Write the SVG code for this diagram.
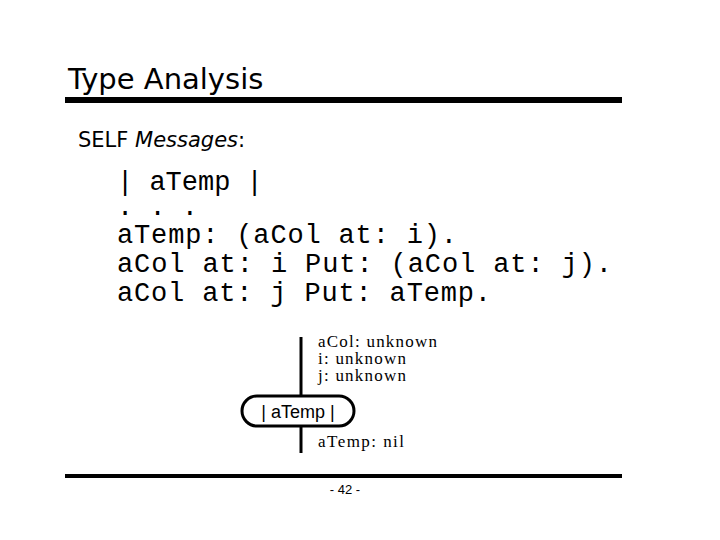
<svg xmlns="http://www.w3.org/2000/svg" width="720" height="540" viewBox="0 0 720 540">
<style>
.code{font-family:"Liberation Mono",monospace;font-size:27px;fill:#000}
.ser{font-family:"Liberation Serif",serif;font-size:17px;fill:#000}
.hand{font-family:"DejaVu Sans",sans-serif;fill:#000}
</style>
<rect width="720" height="540" fill="#fff"/>
<text class="hand" x="68" y="89" font-size="29">Type Analysis</text>
<rect x="65" y="97" width="557" height="6" fill="#000"/>
<text class="hand" x="78" y="147" font-size="21">SELF <tspan font-style="italic">Messages</tspan>:</text>
<text class="code" x="117" y="190" xml:space="preserve">| aTemp |</text>
<text class="code" x="117" y="215" xml:space="preserve">. . .</text>
<text class="code" x="117" y="243" textLength="340">aTemp: (aCol at: i).</text>
<text class="code" x="117" y="272" textLength="495">aCol at: i Put: (aCol at: j).</text>
<text class="code" x="117" y="301" textLength="374">aCol at: j Put: aTemp.</text>
<g id="connectors" stroke="#000" stroke-width="3">
<line x1="301" y1="337" x2="301" y2="396"/>
<line x1="301" y1="426" x2="301" y2="453"/>
</g>
<g id="node-atemp">
<rect x="242" y="396" width="112" height="30" rx="15" fill="#fff" stroke="#000" stroke-width="3"/>
<text x="298" y="418" text-anchor="middle" font-family="Liberation Sans,sans-serif" font-size="18">| aTemp |</text>
</g>
<g id="labels">
<text class="ser" x="318" y="347" textLength="119">aCol: unknown</text>
<text class="ser" x="318" y="364" textLength="88">i: unknown</text>
<text class="ser" x="318" y="381" textLength="88">j: unknown</text>
<text class="ser" x="318" y="447" textLength="86">aTemp: nil</text>
</g>
<rect x="65" y="474" width="557" height="4" fill="#000"/>
<text x="345" y="494" text-anchor="middle" font-family="Liberation Sans,sans-serif" font-size="13">- 42 -</text>
</svg>
